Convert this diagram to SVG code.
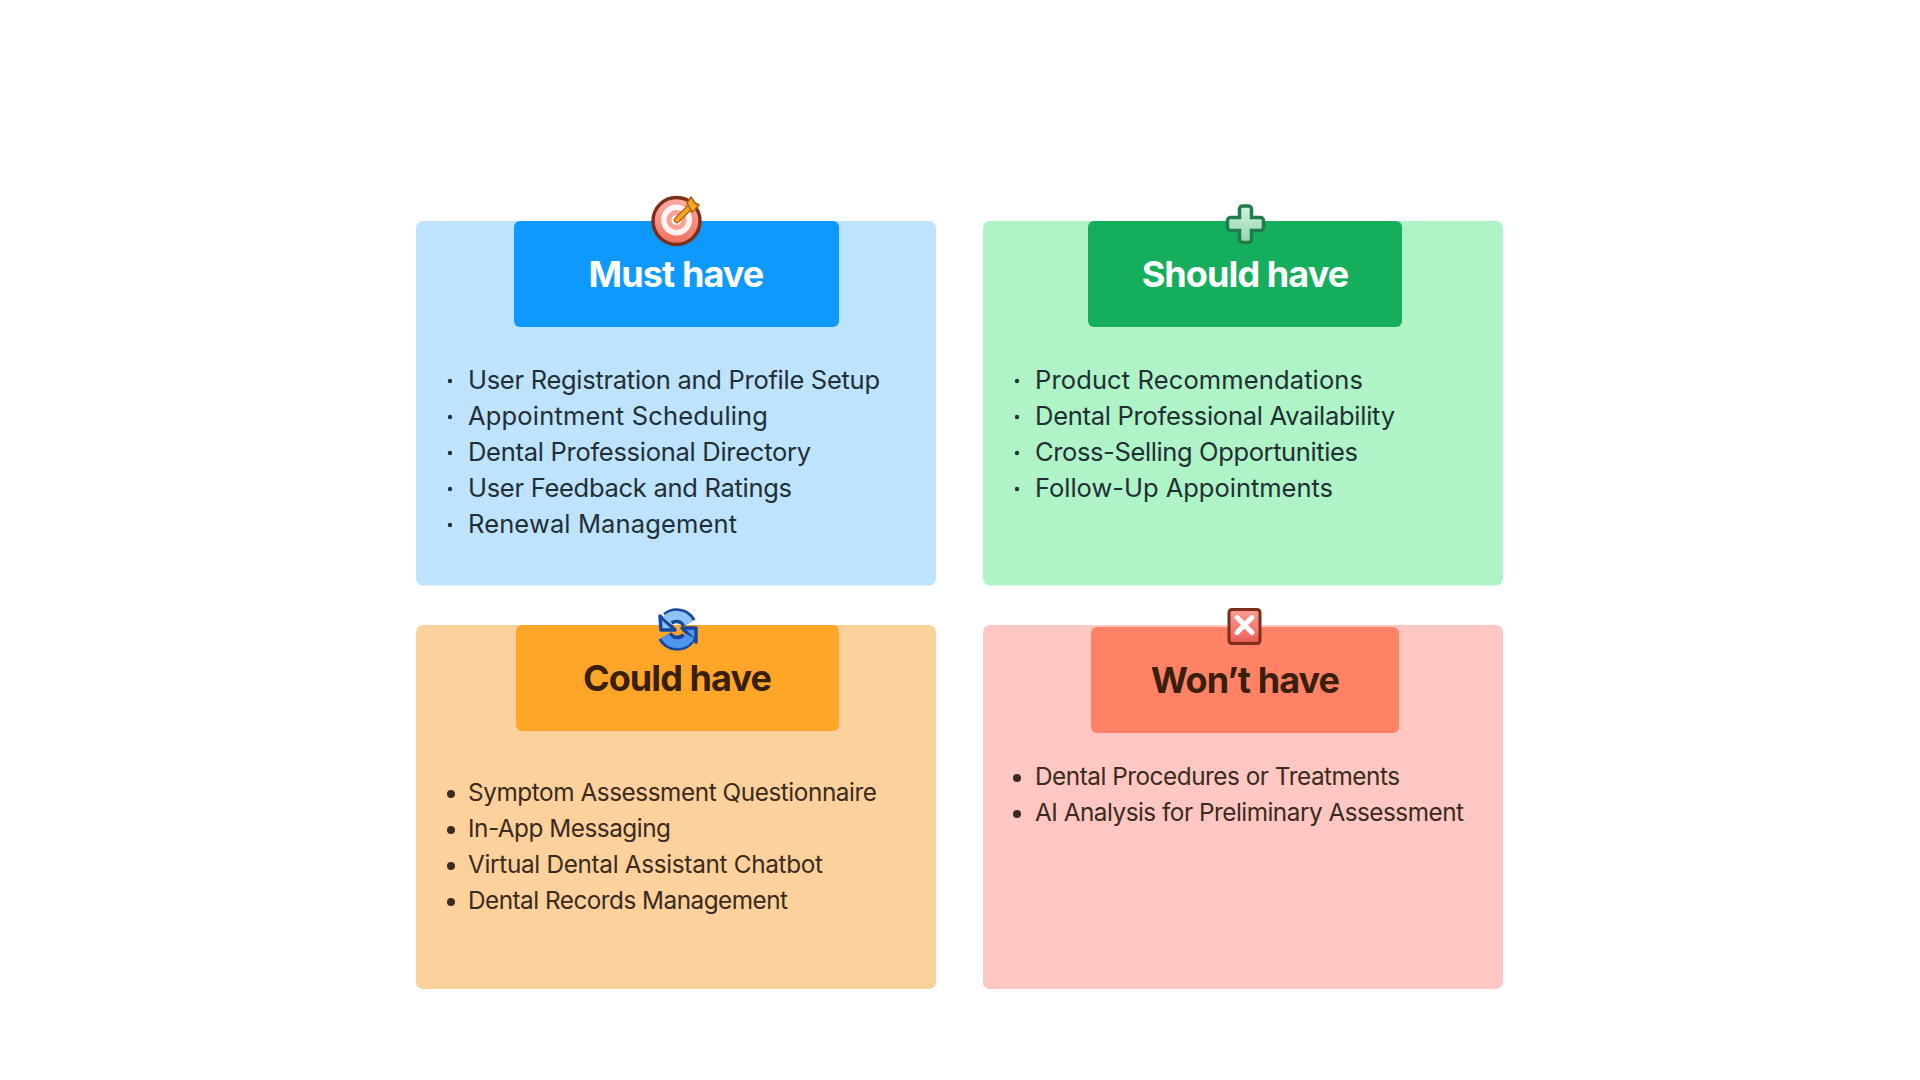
<svg xmlns="http://www.w3.org/2000/svg" width="1920" height="1080" viewBox="0 0 1920 1080">
<defs>
<style>
.title{font-family:Inter,"Liberation Sans",sans-serif;font-weight:700;font-size:36px;text-anchor:middle;letter-spacing:-.9px}
.m{font-family:Inter,"Noto Sans",sans-serif;font-size:25.5px;fill:#222e36}
.i{font-family:Inter,"Noto Sans",sans-serif;font-size:24.3px;fill:#3a2a20}
.rout{fill:none;stroke:#17479e;stroke-width:15}
</style>
<linearGradient id="tg" x1="0" y1="0" x2="0" y2="1"><stop offset="0" stop-color="#fdb0a3"/><stop offset="1" stop-color="#f0705f"/></linearGradient>
<linearGradient id="pg" x1="0" y1="0" x2="0" y2="1"><stop offset="0" stop-color="#d3f0df"/><stop offset="1" stop-color="#8fd6ac"/></linearGradient>
<linearGradient id="xg" x1="0" y1="0" x2="0" y2="1"><stop offset="0" stop-color="#fb9a90"/><stop offset=".75" stop-color="#f3706a"/><stop offset="1" stop-color="#e0564e"/></linearGradient>
</defs>
<rect width="1920" height="1080" fill="#fff"/>

<g id="must-have">
<rect x="416" y="221" width="520" height="364.500" rx="7" fill="#BDE3FF"/>
<rect x="514" y="221" width="325" height="106" rx="6" fill="#0D99FF"/>
<text class="title" x="676" y="287" fill="#fff">Must have</text>
<g fill="#26323a"><circle cx="450" cy="381" r="2.200"/><circle cx="450" cy="417" r="2.200"/><circle cx="450" cy="453" r="2.200"/><circle cx="450" cy="489" r="2.200"/><circle cx="450" cy="525" r="2.200"/></g>
<text class="m" x="468" y="388.500" textLength="412">User Registration and Profile Setup</text>
<text class="m" x="468" y="424.500" textLength="300">Appointment Scheduling</text>
<text class="m" x="468" y="460.500" textLength="343">Dental Professional Directory</text>
<text class="m" x="468" y="496.500" textLength="324">User Feedback and Ratings</text>
<text class="m" x="468" y="532.500" textLength="269">Renewal Management</text>
<g id="icon-target">
<circle cx="676.500" cy="221" r="23.500" fill="url(#tg)" stroke="#7d2e18" stroke-width="3.500"/>
<circle cx="676.500" cy="220" r="15.500" fill="#fff" opacity=".9"/>
<circle cx="676.500" cy="220" r="10" fill="#fba193"/>
<circle cx="676.500" cy="220" r="5" fill="#fff"/>
<path d="M677 220 L691 206" stroke="#a85f0c" stroke-width="6.500" stroke-linecap="round"/>
<path d="M677 220 L691 206" stroke="#f7a51e" stroke-width="4" stroke-linecap="round"/>
<path d="M687 203 L691 197 L695 203 L699 205 L695 210 L692 212 Z" fill="#f7a51e" stroke="#a85f0c" stroke-width="1.500" stroke-linejoin="round"/>
</g>
</g>

<g id="should-have">
<rect x="983" y="221" width="520" height="364.500" rx="7" fill="#AFF4C6"/>
<rect x="1088" y="221" width="314" height="106" rx="6" fill="#14AE5C"/>
<text class="title" x="1245" y="287" fill="#fff">Should have</text>
<g fill="#26323a"><circle cx="1017" cy="381" r="2.200"/><circle cx="1017" cy="417" r="2.200"/><circle cx="1017" cy="453" r="2.200"/><circle cx="1017" cy="489" r="2.200"/></g>
<text class="m" x="1035" y="388.500" textLength="328">Product Recommendations</text>
<text class="m" x="1035" y="424.500" textLength="360">Dental Professional Availability</text>
<text class="m" x="1035" y="460.500" textLength="323">Cross-Selling Opportunities</text>
<text class="m" x="1035" y="496.500" textLength="298">Follow-Up Appointments</text>
<g id="icon-plus">
<path d="M1239.500 209 a3 3 0 0 1 3-3 h6 a3 3 0 0 1 3 3 v8.500 h9 a3 3 0 0 1 3 3 v7 a3 3 0 0 1-3 3 h-9 v9 a3 3 0 0 1-3 3 h-6 a3 3 0 0 1-3-3 v-9 h-9 a3 3 0 0 1-3-3 v-7 a3 3 0 0 1 3-3 h9 z" fill="url(#pg)" stroke="#1f7d4c" stroke-width="3.500"/>
</g>
</g>

<g id="could-have">
<rect x="416" y="625" width="520" height="364" rx="7" fill="#FCD19C"/>
<rect x="516" y="625" width="323" height="106" rx="6" fill="#FFA629"/>
<text class="title" x="677" y="691" fill="#3a1f0c">Could have</text>
<g fill="#3a2a20"><circle cx="451" cy="794" r="4"/><circle cx="451" cy="830" r="4"/><circle cx="451" cy="866" r="4"/><circle cx="451" cy="902" r="4"/></g>
<text class="i" x="468" y="801" textLength="409">Symptom Assessment Questionnaire</text>
<text class="i" x="468" y="837" textLength="203">In-App Messaging</text>
<text class="i" x="468" y="873" textLength="355">Virtual Dental Assistant Chatbot</text>
<text class="i" x="468" y="909" textLength="320">Dental Records Management</text>
<g id="icon-refresh">
<path class="rout" d="M689 623 A14 14 0 0 0 668 619"/>
<path class="rout" d="M665 636 A14 14 0 0 0 688 638"/>
<path d="M660 616 L675 630 L661 630 Z" fill="#8cc4f5" stroke="#17479e" stroke-width="3.500" stroke-linejoin="round"/>
<path d="M696 628 L682 628 L696 642 Z" fill="#4f97ee" stroke="#17479e" stroke-width="3.500" stroke-linejoin="round"/>
<path d="M689 623 A14 14 0 0 0 666 620" fill="none" stroke="#8cc4f5" stroke-width="9"/>
<path d="M665 636 A14 14 0 0 0 690 636" fill="none" stroke="#4f97ee" stroke-width="9"/>
</g>
</g>

<g id="wont-have">
<rect x="983" y="625" width="520" height="364" rx="7" fill="#FFC7C2"/>
<rect x="1091" y="627" width="308" height="106" rx="6" fill="#FF8266"/>
<text class="title" x="1245" y="693" fill="#3a1f0c">Won’t have</text>
<g fill="#3a2a20"><circle cx="1017" cy="778" r="4"/><circle cx="1017" cy="814" r="4"/></g>
<text class="i" x="1035" y="785" textLength="365">Dental Procedures or Treatments</text>
<text class="i" x="1035" y="821" textLength="429">AI Analysis for Preliminary Assessment</text>
<g id="icon-x">
<rect x="1229" y="609.500" width="31" height="34" rx="3" fill="url(#xg)" stroke="#7d2e18" stroke-width="3"/>
<path d="M1237 617.500 L1252 632.500 M1252 617.500 L1237 632.500" stroke="#fff" stroke-width="5" stroke-linecap="round"/>
</g>
</g>
</svg>
